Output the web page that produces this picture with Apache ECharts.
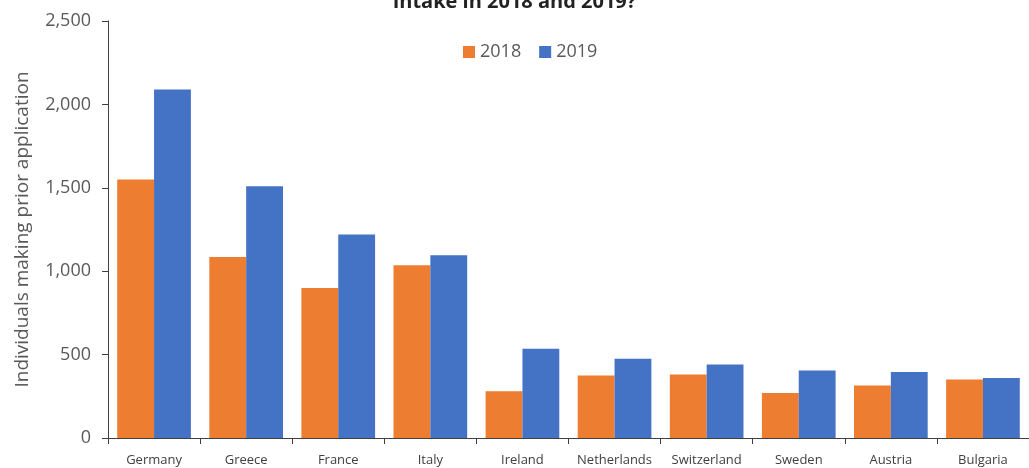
<!DOCTYPE html>
<html>
<head>
<meta charset="utf-8">
<script src="https://cdn.jsdelivr.net/npm/echarts@6/dist/echarts.min.js"></script>
<style>
html,body{margin:0;padding:0;background:#fff;}
#chart{width:1029px;height:468px;}
</style>
</head>
<body>
<div id="chart"></div>
<script>
var countries = ['Germany','Greece','France','Italy','Ireland','Netherlands','Switzerland','Sweden','Austria','Bulgaria'];
var y2018 = [1550, 1085, 900, 1035, 280, 375, 380, 270, 315, 350];
var y2019 = [2090, 1510, 1220, 1095, 535, 475, 440, 405, 395, 360];

var chart = echarts.init(document.getElementById('chart'));
var option = {
    backgroundColor: '#fff',
    animation: false,
    title: {
        text: 'Intake in 2018 and 2019?',
        left: 'center',
        top: -13,
        textStyle: {fontFamily: 'Open Sans', fontSize: 20, fontWeight: 'bold', color: '#222'}
    },
    legend: {
        data: ['2018','2019'],
        top: 38,
        left: 458,
        itemWidth: 12,
        itemHeight: 12,
        itemGap: 18,
        icon: 'rect',
        textStyle: {fontFamily: 'Open Sans', fontSize: 18, color: '#595959'}
    },
    grid: {left: 108, right: -3, top: 21, bottom: 30},
    xAxis: {
        type: 'category',
        data: countries,
        axisLine: {lineStyle: {color: '#404040'}},
        axisTick: {show: true, length: 6, lineStyle: {color: '#404040'}},
        axisLabel: {fontFamily: 'Open Sans', fontSize: 13, color: '#404040', margin: 16, interval: 0}
    },
    yAxis: {
        type: 'value',
        min: 0,
        max: 2500,
        interval: 500,
        name: 'Individuals making prior application',
        nameLocation: 'middle',
        nameGap: 76,
        nameTextStyle: {fontFamily: 'Open Sans', fontSize: 19, color: '#595959'},
        splitLine: {show: false},
        axisLine: {show: true, lineStyle: {color: '#404040'}},
        axisTick: {show: true, length: 6, inside: false, lineStyle: {color: '#404040'}},
        axisLabel: {
            fontFamily: 'Open Sans', fontSize: 18, color: '#595959', margin: 17,
            formatter: function(v){ return v.toLocaleString('en-US'); }
        }
    },
    series: [
        {name: '2018', type: 'bar', data: y2018, itemStyle: {color: '#ED7D31'}, barGap: '0%', barCategoryGap: '20%'},
        {name: '2019', type: 'bar', data: y2019, itemStyle: {color: '#4472C4'}}
    ]
};
chart.setOption(option);
</script>
</body>
</html>
